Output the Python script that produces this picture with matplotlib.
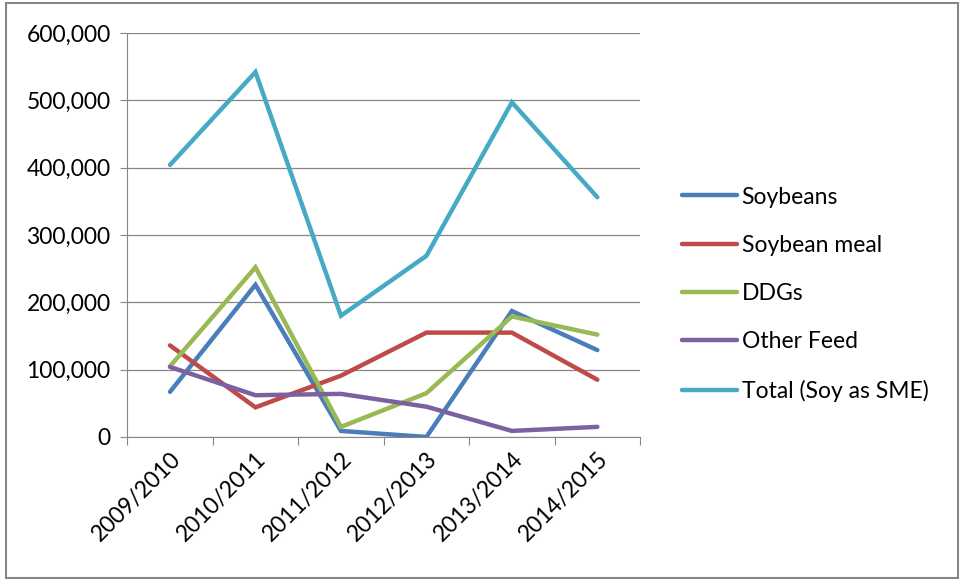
import matplotlib
matplotlib.use("Agg")
import matplotlib.pyplot as plt
from matplotlib.patches import Rectangle
from matplotlib.ticker import FuncFormatter
import numpy as np

categories = ["2009/2010", "2010/2011", "2011/2012", "2012/2013", "2013/2014", "2014/2015"]
soybeans = [67000, 226000, 9000, 0, 187000, 129000]
soybean_meal = [136000, 44000, 91000, 155000, 155000, 85000]
ddgs = [105000, 252000, 15000, 65000, 179000, 152000]
other_feed = [104000, 62000, 64000, 45000, 9000, 15000]
total = [404000, 542000, 180000, 269000, 497000, 356000]

series = [
    ("Soybeans", soybeans, "#4A7EBB"),
    ("Soybean meal", soybean_meal, "#BE4B48"),
    ("DDGs", ddgs, "#98B954"),
    ("Other Feed", other_feed, "#7D60A0"),
    ("Total (Soy as SME)", total, "#46AAC5"),
]

plt.rcParams['font.family'] = ['Lato', 'DejaVu Sans']

fig = plt.figure(figsize=(9.64, 5.8), dpi=100)
fig.patches.append(Rectangle((0.006, 0.004), 0.988, 0.99, transform=fig.transFigure,
                             fill=False, edgecolor="#868686", linewidth=1.5))
ax = fig.add_axes([0.132, 0.2466, 0.532, 0.6966])

x = np.arange(len(categories))
for name, vals, col in series:
    ax.plot(x, vals, color=col, linewidth=3.2, label=name, solid_capstyle="round",
            solid_joinstyle="miter")

ax.set_xlim(-0.5, len(categories) - 0.5)
ax.set_ylim(0, 600000)
ax.set_yticks(np.arange(0, 600001, 100000))
ax.yaxis.set_major_formatter(FuncFormatter(lambda v, p: f"{int(v):,}"))
ax.grid(axis="y", color="#868686", linewidth=0.9)
ax.set_axisbelow(True)
for s in ["top", "right"]:
    ax.spines[s].set_visible(False)
ax.spines["left"].set_color("#868686")
ax.spines["bottom"].set_color("#868686")
ax.tick_params(axis="y", length=5, color="#868686", labelsize=16.5, pad=7)
ax.set_xticks(np.arange(-0.5, len(categories), 1.0))
ax.set_xticklabels([])
ax.tick_params(axis="x", which="major", length=6, color="#868686")
ax.set_xticks(x, minor=True)
ax.set_xticklabels(categories, minor=True, rotation=45, ha="right", rotation_mode="anchor",
                   fontsize=16.5)
ax.tick_params(axis="x", which="minor", length=0, pad=8)

leg = fig.legend(loc="upper left", bbox_to_anchor=(0.686, 0.714), frameon=False,
                 fontsize=16.5, handlelength=2.4, handletextpad=0.2, labelspacing=1.19)

fig.savefig("out.png", dpi=100)
